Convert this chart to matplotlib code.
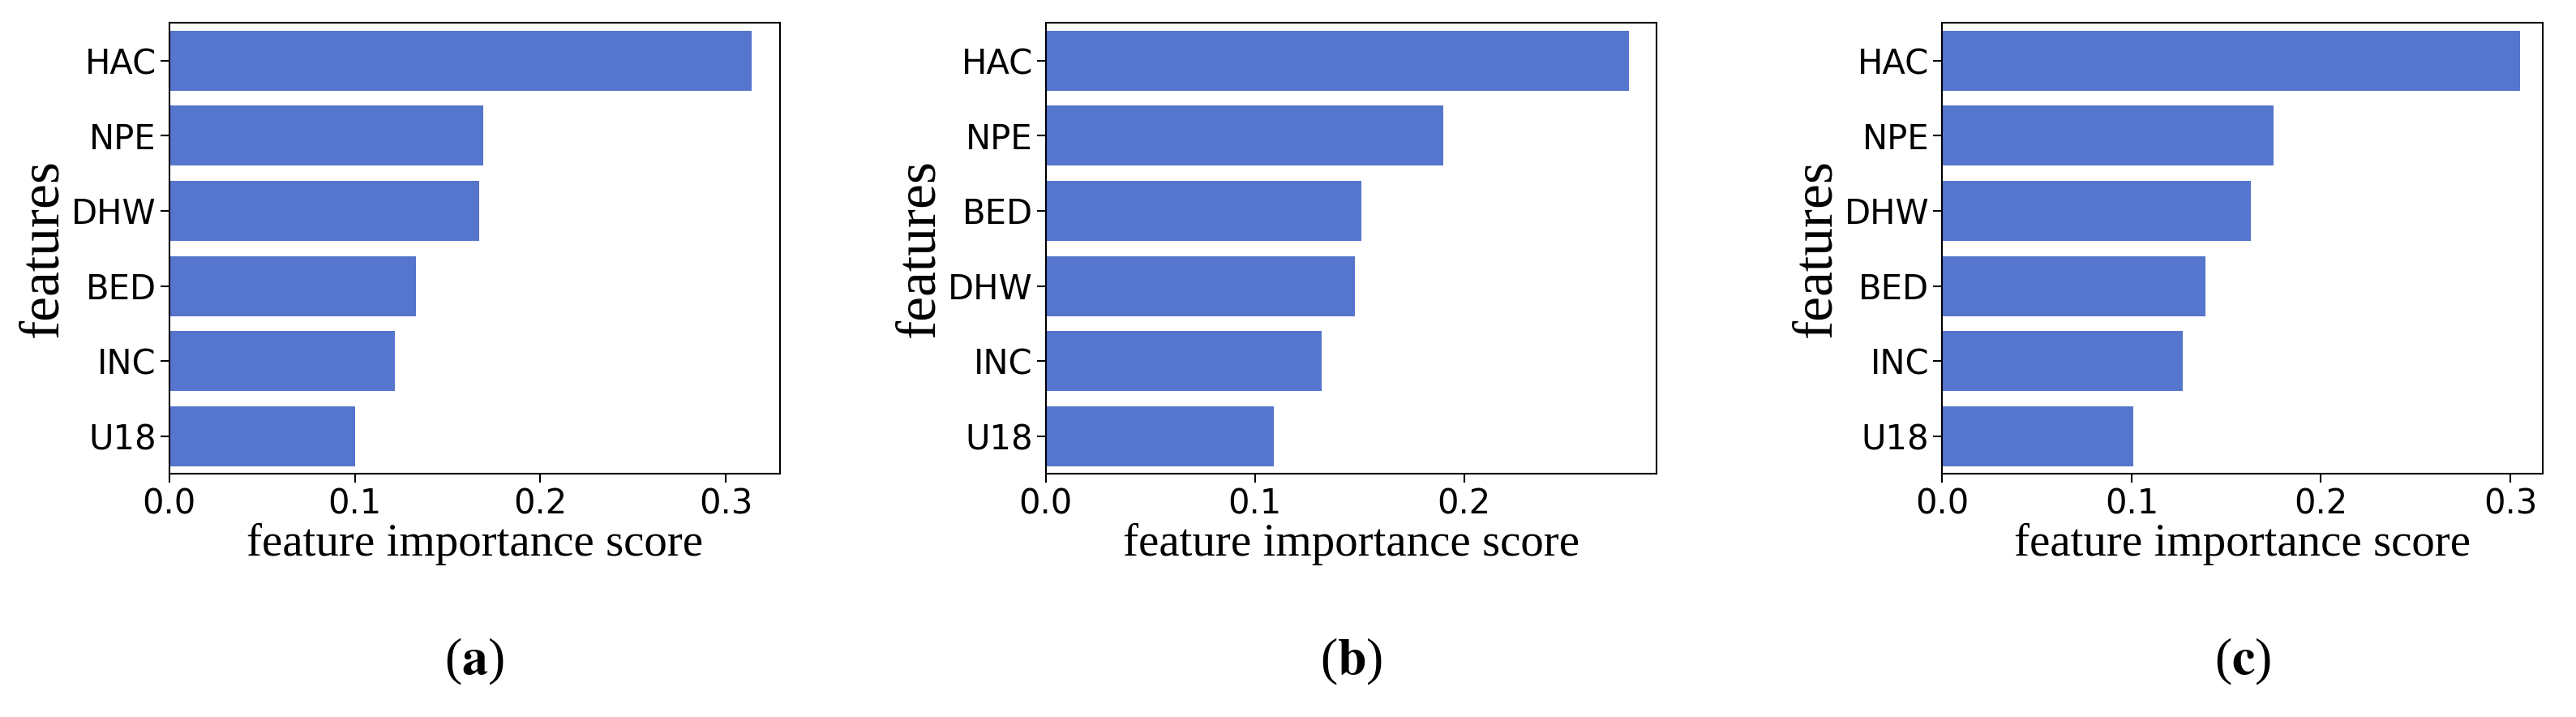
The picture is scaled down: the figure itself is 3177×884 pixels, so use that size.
import matplotlib
matplotlib.use("Agg")
import matplotlib.pyplot as plt

plt.rcParams["mathtext.fontset"] = "stix"

# Données (du haut vers le bas)
features_a = ["HAC", "NPE", "DHW", "BED", "INC", "U18"]
scores_a = [0.314, 0.169, 0.167, 0.133, 0.1215, 0.100]

features_b = ["HAC", "NPE", "BED", "DHW", "INC", "U18"]
scores_b = [0.279, 0.190, 0.151, 0.148, 0.132, 0.109]

features_c = ["HAC", "NPE", "DHW", "BED", "INC", "U18"]
scores_c = [0.305, 0.175, 0.163, 0.139, 0.127, 0.101]

xmax = [0.329, 0.292, 0.317]
xticks = [[0.0, 0.1, 0.2, 0.3], [0.0, 0.1, 0.2], [0.0, 0.1, 0.2, 0.3]]
captions = ["a", "b", "c"]

color = "#5675cc"
serif = ["Liberation Serif", "DejaVu Serif"]

fig = plt.figure(figsize=(31.77, 8.84), dpi=100)
lefts = [0.0657, 0.406, 0.754]
widths = [0.237, 0.237, 0.233]

panels = [(features_a, scores_a), (features_b, scores_b), (features_c, scores_c)]
for k, (feats, vals) in enumerate(panels):
    ax = fig.add_axes([lefts[k], 0.339, widths[k], 0.629])
    ax.barh(range(len(feats)), vals, height=0.8, color=color)
    ax.set_yticks(range(len(feats)))
    ax.set_yticklabels(feats)
    ax.set_ylim(len(feats) - 0.5, -0.5)
    ax.set_xlim(0, xmax[k])
    ax.set_xticks(xticks[k])
    ax.set_xticklabels([f"{t:.1f}" for t in xticks[k]])
    ax.tick_params(labelsize=30, length=8, width=1.5)
    for s in ax.spines.values():
        s.set_linewidth(1.5)
    ax.set_xlabel("feature importance score", family=serif, fontsize=41, labelpad=2)
    ax.set_ylabel("features", family=serif, fontsize=50, labelpad=2)
    cx = lefts[k] + widths[k] / 2
    fig.text(cx, 0.06, "(" + r"$\mathbf{" + captions[k] + "}$" + ")",
             family=serif, fontsize=46, ha="center", va="baseline")

fig.savefig("out.png", dpi=100)
